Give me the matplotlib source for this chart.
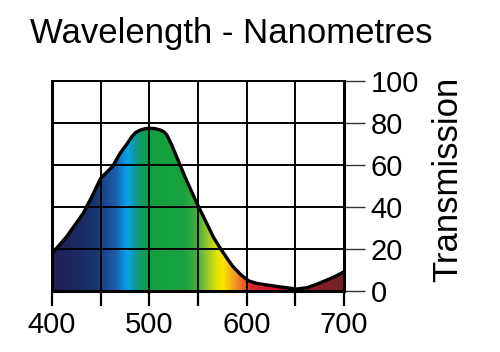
import numpy as np
import matplotlib
matplotlib.use("Agg")
import matplotlib.pyplot as plt
from matplotlib.colors import LinearSegmentedColormap

# transmission curve
wavelength = [400, 415, 432, 441, 450, 462, 470, 477, 482, 486, 491, 496, 501, 506, 511,
              515, 518, 523, 528, 538, 549, 559, 566, 573, 580, 586, 594, 602, 610,
              621, 636, 651, 662, 672, 682, 691, 700]
transmission = [17.9, 25.9, 37, 45, 53.7, 59.2, 65.6, 70, 73.5, 75.5, 76.7, 77.3, 77.5, 77.3, 76.7,
                75.8, 74.3, 69.5, 64, 52.9, 41.7, 32.2, 25.5, 20.3, 15.5, 11.6, 7.8, 4.9, 3.7,
                2.9, 1.9, 1.0, 1.6, 3.3, 5.2, 7.0, 9.2]

# spectrum colours along the wavelength axis
spec_nm = [400, 430, 445, 455, 466, 472, 478, 486, 494, 500, 535, 550, 560, 570, 576,
           588, 598, 606, 630, 650, 700]
spec_col = ["#211f55", "#1b2c62", "#15386f", "#1a4a90", "#1a62ae", "#0f8ad6", "#0aa2e8",
            "#10998f", "#0e9f52", "#10a040", "#18a23e", "#45ad3d", "#9ccb2c", "#e6e400", "#fbe600",
            "#f29a22", "#ea5a20", "#d9242c", "#c9142e", "#9c1f30", "#6e2126"]

x_ticks = [400, 450, 500, 550, 600, 650, 700]
x_labels = ["400", "", "500", "", "600", "", "700"]
y_ticks = [0, 20, 40, 60, 80, 100]

plt.rcParams["font.family"] = ["Liberation Sans", "DejaVu Sans"]

fig = plt.figure(figsize=(5.0, 3.52), dpi=100)
ax = fig.add_axes([0.104, 0.173, 0.584, 0.597])

pos = [(v - spec_nm[0]) / (spec_nm[-1] - spec_nm[0]) for v in spec_nm]
cmap = LinearSegmentedColormap.from_list("spec", list(zip(pos, spec_col)))
grad = np.linspace(0, 1, 600).reshape(1, -1)
img = ax.imshow(grad, cmap=cmap, aspect="auto", extent=[400, 700, 0, 100], zorder=1)

poly = ax.fill_between(wavelength, transmission, 0, facecolor="none", edgecolor="none")
path = poly.get_paths()[0]
img.set_clip_path(path, transform=ax.transData)

for xv in x_ticks[1:-1]:
    ax.axvline(xv, color="black", lw=1.4, zorder=3)
for yv in y_ticks[1:]:
    ax.axhline(yv, color="black", lw=1.4, zorder=3)

ax.plot(wavelength, transmission, color="black", lw=2.4, zorder=4, solid_joinstyle="round")

ax.set_xlim(400, 700)
ax.set_ylim(0, 100)

for side in ["left", "bottom", "right"]:
    ax.spines[side].set_linewidth(2.2)
ax.spines["top"].set_linewidth(1.4)
for sp in ax.spines.values():
    sp.set_zorder(5)

ax.set_xticks(x_ticks)
ax.set_xticklabels(x_labels)
ax.tick_params(axis="x", direction="out", length=11, width=1.6, pad=3, labelsize=21)
ax.yaxis.tick_right()
ax.set_yticks(y_ticks)
ax.tick_params(axis="y", direction="out", length=15, width=1.0, pad=4, labelsize=21,
               color="#333333")
ax.tick_params(axis="y", which="both", left=False)

ax.yaxis.set_label_position("right")
ax.set_ylabel("Transmission", fontsize=25)
ax.yaxis.set_label_coords(1.298, 0.53)

fig.text(0.463, 0.906, "Wavelength - Nanometres", fontsize=25, ha="center", va="center")

fig.savefig("out.png", dpi=100)
